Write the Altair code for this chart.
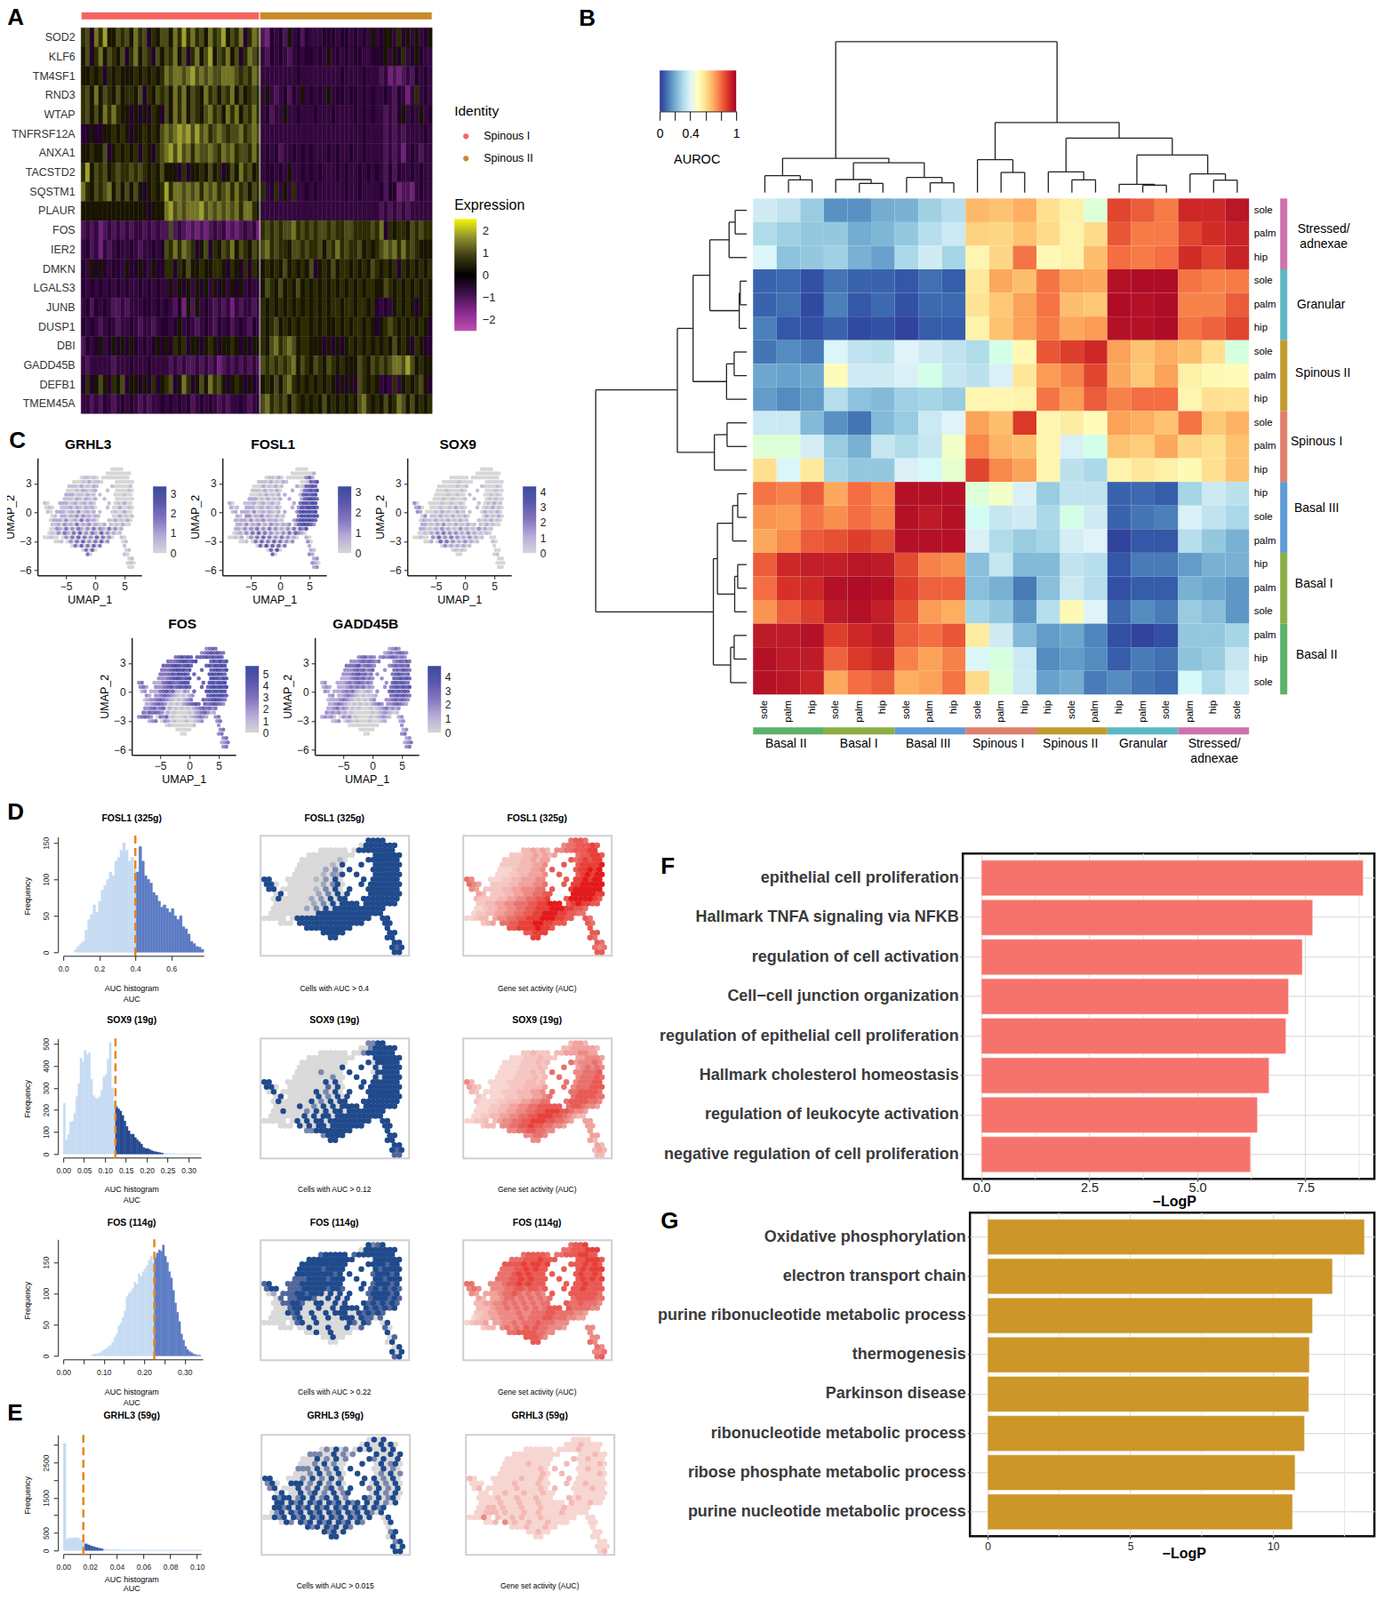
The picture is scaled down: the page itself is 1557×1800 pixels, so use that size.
import altair as alt, pandas as pd

GENES = ["SOD2","KLF6","TM4SF1","RND3","WTAP","TNFRSF12A","ANXA1","TACSTD2","SQSTM1","PLAUR","FOS","IER2","DMKN","LGALS3","JUNB","DUSP1","DBI","GADD45B","DEFB1","TMEM45A"]
HEAT_A = [
"6748695576758674657 7586968675867957684687 214342534243334443443434353 455364535345",
"5746857657468576475 7685746857957685746876 324343234344343534343443344 453546345433",
"5565646565556565656 8788789787877888767687 333333334333333333433334333 231212324343",
"6758576575665746576 7586857658675768575676 353234243534343534434434343 343243136343",
"6757586865545454654 7586857657867586857686 342335334333433343333434343 323245343534",
"4454455656545565657 8789897978678767786787 333333333333333333333334333 323232333343",
"5565574565656465467 8979786877876878677686 343423343434333434334334333 323231343233",
"6957675676676765657 5554645565756457586756 344343533434343334343343434 324243343433",
"8657678575757545656 9688787868786786867576 634635363343433333343343333 424412213433",
"5555555555555554555 8978788897878787868865 333333333333333333333333333 232323233333",
"2323123232323323232 2723212121232312123231 676767786767677676677666676 846566576766",
"3423132343343233434 7686876457465768576576 786766577676675768676675656 787868676555",
"4354543443544543544 6646575565566546546465 565657565657456575665656576 565646565656",
"4343434343433434343 3535453545354535453434 576575657565656565656565665 576565656565",
"3424343223233344343 4324152534323231323323 656565656565656566566566564 343565654565",
"4343234323343233234 4345343234324342343243 656756565665656556565665654 567656565654",
"2434534545454343454 5465645545654556545455 657867875665554545456565656 565756546544",
"3233333233343334333 3232322323231232323232 767676785765765765655576576 767887975655",
"4645754657455454645 6745864575867545654543 565757865656565654545476565 343635656754",
"3323243234343232334 3434342343432323343234 786767576565657565656578656 575687575656",
]
AUROC = [
[.37,.34,.27,.15,.15,.20,.21,.28,.32,.68,.66,.70,.60,.55,.47,.87,.83,.78,.92,.92,.96],
[.31,.28,.26,.26,.20,.22,.26,.32,.36,.63,.62,.66,.61,.54,.61,.84,.78,.78,.87,.91,.93],
[.41,.25,.26,.28,.21,.18,.30,.37,.29,.53,.62,.79,.52,.54,.67,.80,.78,.80,.91,.87,.93],
[.07,.08,.04,.10,.07,.07,.05,.09,.06,.57,.71,.67,.79,.72,.71,.97,.98,.98,.79,.77,.78],
[.07,.09,.03,.12,.05,.08,.04,.08,.08,.59,.65,.72,.79,.67,.65,.98,.97,.98,.77,.77,.83],
[.12,.05,.04,.07,.03,.04,.02,.06,.06,.54,.66,.72,.78,.71,.73,.97,.97,.98,.79,.82,.87],
[.10,.14,.11,.41,.34,.33,.40,.37,.34,.31,.45,.52,.84,.88,.92,.72,.66,.70,.67,.60,.46],
[.19,.18,.19,.51,.37,.37,.39,.45,.35,.33,.39,.58,.73,.77,.87,.71,.65,.72,.55,.52,.51],
[.17,.14,.17,.32,.25,.23,.28,.29,.27,.53,.53,.54,.79,.73,.83,.77,.80,.80,.53,.60,.59],
[.36,.36,.23,.15,.10,.23,.27,.36,.40,.72,.67,.89,.53,.56,.51,.72,.70,.66,.79,.65,.69],
[.47,.47,.38,.27,.21,.35,.31,.35,.49,.76,.69,.67,.53,.39,.45,.66,.64,.71,.62,.60,.66],
[.60,.41,.57,.29,.26,.26,.39,.42,.48,.87,.76,.72,.53,.33,.30,.54,.58,.55,.52,.60,.66],
[.79,.77,.83,.71,.80,.76,.97,.97,.97,.47,.49,.39,.27,.34,.34,.07,.08,.06,.29,.36,.33],
[.74,.73,.79,.75,.80,.77,.97,.95,.97,.43,.35,.37,.30,.45,.37,.07,.10,.12,.39,.34,.30],
[.71,.76,.83,.85,.88,.85,.97,.97,.97,.39,.31,.27,.29,.38,.40,.02,.05,.05,.32,.26,.21],
[.83,.92,.94,.94,.96,.95,.86,.77,.75,.24,.35,.23,.23,.34,.32,.05,.11,.11,.17,.21,.21],
[.80,.90,.92,.97,.98,.97,.88,.82,.82,.24,.21,.11,.24,.36,.32,.04,.06,.06,.21,.19,.16],
[.74,.83,.88,.95,.97,.94,.85,.73,.70,.29,.26,.16,.32,.52,.40,.08,.14,.11,.27,.24,.16],
[.95,.95,.97,.88,.92,.95,.83,.80,.84,.56,.37,.23,.17,.19,.13,.04,.02,.04,.26,.26,.29],
[.97,.95,.95,.82,.89,.92,.77,.72,.77,.41,.46,.36,.14,.17,.14,.06,.11,.09,.25,.27,.35],
[.97,.96,.93,.71,.80,.83,.70,.72,.79,.61,.47,.36,.18,.20,.11,.14,.10,.08,.42,.31,.38],
]
ROW_LABELS = "sole palm hip sole palm hip sole palm hip sole palm hip hip sole palm hip palm sole palm hip sole".split()
COL_LABELS = "sole palm hip sole palm hip sole palm hip sole palm hip hip sole palm hip palm sole palm hip sole".split()
GROUP_COLORS = ["#5BB26A","#8CAF45","#5F9BD5","#E07F6E","#C29B2E","#5CB8C2","#CF72AC"]
ROW_GROUP_COLORS = GROUP_COLORS[::-1]
# dendrograms: child1 pos, child1 level, child2 pos, child2 level, merge level
TOP_MERGES = [(1.5,648,2.5,648,605),(.5,648,2,605,591),(4.5,648,5.5,648,617),(3.5,648,5,617,604),(7.5,648,8.5,648,615),(6.5,648,8,615,597),
(4.25,604,7.25,597,547),(1.25,591,5.75,547,532),(10.5,648,11.5,648,580),(9.5,648,11,580,537),(13.5,648,14.5,648,605),(12.5,648,14,605,578),
(16.5,648,17.5,648,623),(15.5,648,17,623,620),(19.5,648,20.5,648,606),(18.5,648,20,606,585),(16.25,620,19.25,585,521),(13.25,578,17.75,521,464),
(10.25,537,15.5,464,411),(3.5,532,12.87,411,138)]
LEFT_MERGES = [(.5,318,1.5,318,295),(1,295,2.5,318,283),(3.5,318,4.5,318,305),(4,305,5.5,318,303),(1.75,283,4.75,303,245),(6.5,318,7.5,318,293),(7,293,8.5,318,278),
(3.25,245,7.75,278,212),(9.5,318,10.5,318,279),(10,279,11.5,318,254),(5.5,212,10.75,254,181),(12.5,318,13.5,318,300),(13,300,14.5,318,290),(15.5,318,16.5,318,300),
(16,300,17.5,318,294),(13.75,290,16.75,294,260),(18.5,318,19.5,318,293),(19,293,20.5,318,286),(15.25,260,19.75,286,252),(8.1,181,17.5,252,20)]
F_TERMS = ["epithelial cell proliferation","Hallmark TNFA signaling via NFKB","regulation of cell activation","Cell\u2212cell junction organization","regulation of epithelial cell proliferation","Hallmark cholesterol homeostasis","regulation of leukocyte activation","negative regulation of cell proliferation"]
F_VALUES = [8.84,7.67,7.43,7.11,7.05,6.66,6.39,6.23]
G_TERMS = ["Oxidative phosphorylation","electron transport chain","purine ribonucleotide metabolic process","thermogenesis","Parkinson disease","ribonucleotide metabolic process","ribose phosphate metabolic process","purine nucleotide metabolic process"]
G_VALUES = [13.2,12.08,11.38,11.27,11.25,11.1,10.77,10.68]
H_D1 = [3,8,12,15,30,45,52,65,55,70,85,92,100,110,105,125,130,140,150,140,125,130,115,110,145,125,105,100,95,82,78,70,62,65,60,55,60,50,45,50,35,32,25,15,12,8,7,4]
H_D2 = [230,65,90,145,150,185,260,320,435,420,470,450,460,340,265,255,250,260,290,350,360,430,505,300,240,215,205,195,175,150,125,105,90,90,75,65,55,45,30,25,25,20,15,12,10,8,6,4,3,3,2,2,2,1,1,1,1,1,1,1,1,1,1,1,1,1]
H_D3 = [2,3,3,4,5,8,10,12,15,17,22,30,35,48,52,62,72,95,100,103,108,118,115,132,128,135,140,145,153,160,150,158,165,170,168,178,160,150,135,125,105,85,70,55,35,25,15,10,7,5,3,2,1,1]
H_E = [3050,330,350,360,365,360,300,230,190,160,130,105,85,65,50,40,32,28,24,20,18,16,15,14,14,13,13,12,12,12,11,11,11,11,10,10,10,10,10,10,10,10,9,9,9,9,9,9,9,9,9,9]
# '#': a cell with its own digit; 'e': edge cell, repeats the digit next to it; 'o': sparse dot inside the hole; 'x': digit unused, cell left empty
MASK = [
" "*22+"####",
" "*20+"########",
" "*12+"######"+" "+"#########",
" "*9+"ee"+"#"*8+"x"+"   "+"#"*6,
" "*8+"ee"+"#"*8+"x"+"   o"+"#"*6,
" "*7+"ee"+"#"*8+"x"+"  o  "+"#"*6,
" "*7+"ee"+"#"*8+"x"+"o    "+"#"*6,
" "*6+"ee"+"#"*9+"x"+" o   "+"#"*6,
"##"+" "*3+"ee"+"#"*10+"x"+"   o "+"#"*6,
"###"+" "*2+"ee"+"#"*10+"x"+"  o "+"#"*7,
" ##"+" "+"ee"+"#"*11+"x"+"o   "+"#"*7,
"  ##"+" "+"e"+"#"*12+"x"+"   "+"#"*7,
"  ##"+"e"+"#"*13+"x"+"  o"+"#"*7,
"  e"+"#"*17+" o"+"#"*6,
"  e"+"#"*23,
" "+"#"*24,
"#"*5+" "+"#"*17+"  "+"##",
"   "+"###"+" "+"#"*14+"    "+"##",
" "*9+"#"*10+" "*7+"#",
" "*12+"#"*5+" "*9+"##",
" "*14+"##"+" "*10+"##",
" "*27+"##",
" "*27+"###",
" "*27+"##",
]
C_GRHL3 = ("0000|00000000|011010 000000000|010201102 000000|102010210 000001|010210120 000010|201102011 000100|1021021020 000000|10 20120120210 010200|010 12021021201 0020010|10 201203012021 0100200|01 2021303120213 0020101|02 20301204031202 0201020|12031204021302102 010200|03204030420304032040302|010304204050304205030201|00100 03040504030504030 10|001 03040503040503 01|0405040504 1|04050 01|40 10|01|010|00",1)
C_FOSL1 = ("0000|00000002|011020 000000352|102010210 001546|020102011 015565|102010201 045657|010201021 156567|2010201020 256765|20 12012012010 466576|201 20120210201 3657675|12 203012021020 3676767|21 3021302102010 4767676|21 20302130212010 4676765|20302130203120213 567653|20303140304030203040536|012030405040302030405320|00102 03040504030403020 20|001 04050405040303 30|0506050504 2|05060 21|50 32|23|320|23",2)
C_SOX9 = ("0000|00000000|000000 000000000|000100000 000000|000010010 000010|010000100 000100|001001000 001010|0100100010 010100|30 00100100100 010201|230 01001020100 0102010|32 010201002010 0201020|03 1020102010201 0201020|02 10201020102010 0102010|20102030102010201 020100|20102030201030201030201|001020304030302030201010|00100 30503040302030201 00|002 05040302030201 10|0302020201 0|01010 00|00 01|00|000|00",1)
C_FOS = ("3454|34565654|456565 555656565|456765675 565756|567656757 657676|456767567 567657|456576756 676765|3456765675 676576|34 24565456765 675767|342 34564565654 5676767|23 245645210323 6767676|32 3454321010234 5676765|12 34543210102345 4567654|23454301010234565 456543|34534502010101023454534|435454302010000102345312|34543 04350100010123432 34|234 03201000100123 34|0100000001 3|00000 34|00 34|34|234|34",5)
C_GADD = ("2343|23434543|345343 343454343|345454343 345454|456345434 454545|345453454 454654|345645343 456545|2345453432 556565|23 23434543432 565654|232 23434342321 4565656|32 234342101212 5656565|23 2343210101123 4565654|12 23432101010234 3454543|23432101010102343 345432|23423201010001012342323|323231201000000101232101|23231 03230100001012321 23|123 02101000100012 23|0000000000 3|00000 23|00 34|23|234|34",3)
CELL_FOSL1 = ("9999|09999999|000000 099999999|000000009 999999|000000209 999999|000002090 999999|000030509 999999|0000204390 999999|99 00002040909 999999|990 00000305909 9999999|99 000002050909 9999999|09 0000030509099 9999999|09 00000304090999 9999999|00000003050909999 999999|00000030509099999999999|000000000099999999999999|00000 09999999999999999 99|000 99999999999999 99|9999999999 9|99999 99|99 99|99|979|99",9)
CELL_SOX9 = ("5599|00599999|000000 005999999|000000000 999999|000000000 099999|000000090 909999|000500009 099999|0000005009 909999|99 00000090909 999999|990 00000070909 9999999|09 000009050909 9999999|09 0000090509099 9999999|09 00000905090999 9999999|00009005090909999 999999|09000050909099099999999|000000090909909999999999|00000 09090990999999999 99|000 90909909999999 99|5599999999 9|59999 99|99 99|99|979|77",9)
CELL_FOS = ("9579|09999999|799999 799999999|999999999 999999|999999999 999799|999799999 979999|999999799 799979|7999979999 997999|79 79999999999 799979|799 79999979979 7979797|03 799799909090 7999979|07 7999700909090 7999797|00 79970099009099 7979797|00799000900909999 797979|00979009009099900979797|000007900900900999097707|00000 07900900000097097 09|000 00900090009007 70|0090090000 9|00900 07|00 09|09|909|79",9)
CELL_GRHL3 = ("0909|09009090|050905 090900909|500905050 900909|090509050 509009|050905009 090590|509050905 009050|0509050905 050905|99 05090509050 905090|590 90509050905 0905090|59 090509059050 5090509|09 0905905090590 0905090|95 90590905909059 5090590|90959095909590959 090509|95909590959095909590959|059095909590959095909509|00959 95909590959095909 09|095 95909590959095 09|9590959095 0|95909 59|99 09|59|909|99",9)
ACT_FOSL1 = ("6776|56677787|334343 556677788|233434344 677887|223343445 678788|223334454 788889|123334455 788989|1223344455 789899|65 12233444555 889899|654 22334445566 8899999|54 223344555667 8999999|43 2233445566778 9999988|32 22334455667788 9999987|23344556667788999 898877|12334455667788899988776|122334455667788999887766|11233 45566778889998877 76|234 66778889988777 76|7788889887 7|77888 77|88 76|76|656|77",7)
ACT_SOX9 = ("3443|33444443|223222 334445544|122232223 445554|112223232 455565|112222323 456565|112223234 556667|1122223233 566676|53 11222233233 566677|432 11222333343 5666777|32 112223334455 6677776|21 1122233344566 6777766|21 11223334455667 7777665|11223344556677777 776554|11223344556677888776554|112233445566778887765433|11223 34556677888776654 44|233 55667787766554 44|5566776655 4|55665 44|55 43|43|343|33",6)
ACT_FOS = ("6778|66777888|677776 667778877|677787778 778887|778788787 778787|677878778 787888|678787777 787787|6778787777 787878|66 56778787777 778777|565 56677677676 7787777|54 456676565655 7777776|43 4566565656565 6777766|33 45565656565667 6676665|33455656565656777 666655|23445555655666776666554|123344555565666776665544|12334 44556566676665 55|233 56565767665554 55|6677776655 5|77765 55|77 65|65|556|67",7)
ACT_GRHL3 = ("1111|11131111|111111 111131111|111111111 111311|111111111 113111|111311111 111131|111111311 113111|1111111311 111131|31 11113111311 111111|111 11311113111 1131111|13 111131111311 1111311|11 1311131113111 1111111|11 13111311131111 1311111|11131113111311111 111311|13313111311131111311111|113331311131131111311111|11151 31131311131111111 11|113 51311311131111 11|1113111311 1|11311 11|11 11|11|111|13",3)

FONT = "Liberation Sans"
BLANK = pd.DataFrame({'a':[0]})
def spacer(w,h):
    return alt.Chart(BLANK).mark_point(size=0,opacity=0).encode(x=alt.value(0)).properties(width=max(1,w),height=max(1,h))
def conc(fn,*c):
    return fn(*c,spacing=0,bounds='flush').resolve_scale(color='independent')
def place(ch,x,y):
    return conc(alt.vconcat,spacer(1,round(y-8)),conc(alt.hconcat,spacer(round(x-8),1),ch))
items=[]
def put(ch,x,y): items.append(place(ch,x,y))
def text(s,x,y,size=12,weight='normal',align='center',angle=0,color='#000'):
    ch=alt.Chart(pd.DataFrame({'t':[s]})).mark_text(fontSize=size,fontWeight=weight,align=align,baseline='middle',angle=angle,color=color).encode(text='t:N',x=alt.value(0),y=alt.value(0)).properties(width=1,height=1)
    put(ch,x,y)
def grad(stops,vertical=True):
    n=len(stops)-1
    s=[dict(offset=i/n,color=c) for i,c in enumerate(stops)]
    return dict(gradient='linear',stops=s,x1=0,x2=0,y1=1,y2=0) if vertical else dict(gradient='linear',stops=s,x1=0,x2=1,y1=0,y2=0)
def colorbar(stops,lo,hi,ticks,w,h,x,y,size=12,pad=6):
    ch=alt.Chart(pd.DataFrame({'lo':[lo],'hi':[hi]})).mark_rect(color=grad(stops)).encode(
        y=alt.Y('lo:Q',scale=alt.Scale(domain=[lo,hi],nice=False),axis=alt.Axis(orient='right',title=None,values=ticks,format='d',domain=False,ticks=False,grid=False,labelFontSize=size,labelPadding=pad,labelColor='#222')),
        y2='hi:Q').properties(width=w,height=h)
    put(ch,x,y)

# ---- letters
for s,x,y in [("A",9,19),("B",652,20),("C",11,495),("D",9,913),("E",9,1589),("F",744,974),("G",744,1373)]:
    text(s,x,y,size=26,weight='bold',align='left')

# ---- A
rows=[]
for g,r in enumerate(HEAT_A):
    for c,ch in enumerate(r.replace(' ','')):
        rows.append(dict(g=g,c=c,v=(int(ch)-4.5)*0.4))
heatA=pd.DataFrame(rows)
A_STOPS=['#BE4FB0','#8A2A90','#3E1148','#000000','#3B3B14','#8F8F30','#F5F50E']
A_DOM=[-2.5+i*5/6 for i in range(7)]
A_SCALE=alt.Scale(domain=A_DOM,range=A_STOPS)
ha=alt.Chart(heatA).mark_rect(strokeWidth=0.4).encode(
    x=alt.X('c:O',axis=None,scale=alt.Scale(paddingInner=0,paddingOuter=0)),
    y=alt.Y('g:O',title=None,scale=alt.Scale(paddingInner=0,paddingOuter=0),axis=alt.Axis(labelExpr=str(GENES)+'[datum.value]',domain=False,ticks=False,labelFontSize=12.5,labelColor='#333',labelPadding=7,labelAngle=0)),
    color=alt.Color('v:Q',legend=None,scale=A_SCALE),stroke=alt.Stroke('v:Q',legend=None,scale=A_SCALE)).properties(width=395,height=434)
sp=alt.Chart(pd.DataFrame({'c':[40.7]})).mark_rule(color='#ddd',strokeWidth=1).encode(x=alt.X('c:Q',scale=alt.Scale(domain=[0,80]),axis=None))
put(alt.layer(ha,sp).resolve_scale(x='independent'),92,30)
ab=alt.Chart(pd.DataFrame({'a':[0,40.7],'b':[40.7,80],'c':['#F4645F','#C88A2A']})).mark_rect(stroke='white',strokeWidth=1).encode(
    x=alt.X('a:Q',scale=alt.Scale(domain=[0,80]),axis=None),x2='b:Q',color=alt.Color('c:N',scale=None)).properties(width=395,height=9)
put(ab,92,12)
text("Identity",512,124,size=15.5,align='left')
text("Spinous I",545,152,size=12.5,align='left')
text("Spinous II",545,177,size=12.5,align='left')
for c,y in [('#F4645F',152),('#C88A2A',177)]:
    put(alt.Chart(BLANK).mark_circle(size=38,color=c,opacity=1).encode(x=alt.value(0),y=alt.value(0)).properties(width=1,height=1),525,y)
text("Expression",512,230,size=16,align='left')
colorbar(A_STOPS,-2.52,2.52,[-2,-1,0,1,2],25,126,512,245,size=13)

# ---- B
rows=[dict(r=i,c=j,v=v) for i,row in enumerate(AUROC) for j,v in enumerate(row)]
RB=['#313695','#4575b4','#74add1','#abd9e9','#e0f3f8','#ffffbf','#fee090','#fdae61','#f46d43','#d73027','#a50026']
hb=alt.Chart(pd.DataFrame(rows)).mark_rect().encode(
    x=alt.X('c:O',title=None,scale=alt.Scale(paddingInner=0,paddingOuter=0),axis=alt.Axis(labelExpr=str(COL_LABELS)+'[datum.value]',labelAngle=270,domain=False,ticks=False,labelFontSize=11.5,labelPadding=6,labelBaseline='middle',labelAlign='right')),
    y=alt.Y('r:O',title=None,scale=alt.Scale(paddingInner=0,paddingOuter=0),axis=alt.Axis(orient='right',labelExpr=str(ROW_LABELS)+'[datum.value]',labelAngle=0,domain=False,ticks=False,labelFontSize=11.5,labelPadding=5)),
    color=alt.Color('v:Q',legend=None,scale=alt.Scale(domain=[i/10 for i in range(11)],range=RB))).properties(width=558,height=558)
put(hb,848,222)
def dendro(merges):
    r=[]
    for p1,l1,p2,l2,l in merges:
        r+= [dict(p=p1,p2=p1,l=l1,l2=l),dict(p=p2,p2=p2,l=l2,l2=l),dict(p=p1,p2=p2,l=l,l2=l)]
    return pd.DataFrame(r)
top=alt.Chart(dendro(TOP_MERGES)).mark_rule(color='#222',strokeWidth=1.3).encode(
    x=alt.X('p:Q',scale=alt.Scale(domain=[0,21],nice=False),axis=None),x2='p2:Q',
    y=alt.Y('l:Q',scale=alt.Scale(domain=[130,650],nice=False,reverse=True,zero=False),axis=None),y2='l2:Q').properties(width=558,height=173)
put(top,848,43)
left=alt.Chart(dendro(LEFT_MERGES)).mark_rule(color='#222',strokeWidth=1.3).encode(
    y=alt.Y('p:Q',scale=alt.Scale(domain=[0,21],nice=False,reverse=True),axis=None),y2='p2:Q',
    x=alt.X('l:Q',scale=alt.Scale(domain=[20,318],nice=False,zero=False),axis=None),x2='l2:Q').properties(width=170,height=558)
put(left,671,222)
bs=pd.DataFrame({'a':[0,3,6,9,12,15,18],'b':[3,6,9,12,15,18,21],'c':GROUP_COLORS})
rs=pd.DataFrame({'a':[0,3,6,9,12,15,18],'b':[3,6,9,12,15,18,21],'c':ROW_GROUP_COLORS})
put(alt.Chart(bs).mark_rect().encode(x=alt.X('a:Q',scale=alt.Scale(domain=[0,21],nice=False),axis=None),x2='b:Q',color=alt.Color('c:N',scale=None)).properties(width=558,height=8),848,817)
put(alt.Chart(rs).mark_rect().encode(y=alt.Y('a:Q',scale=alt.Scale(domain=[21,0],nice=False),axis=None),y2='b:Q',color=alt.Color('c:N',scale=None)).properties(width=8,height=558),1441,222)
for s,x in zip(["Basal II","Basal I","Basal III","Spinous I","Spinous II","Granular","Stressed/"],[885,967,1045,1124,1205,1287,1367]):
    text(s,x,836,size=14)
text("adnexae",1367,853,size=14)
for s,x,y in [("Stressed/",1490,257),("adnexae",1490,274),("Granular",1487,342),("Spinous II",1489,419),("Spinous I",1482,496),("Basal III",1482,571),("Basal I",1479,656),("Basal II",1482,736)]:
    text(s,x,y,size=14)
acb=alt.Chart(pd.DataFrame({'lo':[0],'hi':[1]})).mark_rect(color=grad(RB,False)).encode(
    x=alt.X('lo:Q',scale=alt.Scale(domain=[0,1],nice=False),axis=alt.Axis(title=None,values=[0,.2,.4,.6,.8,1],labelExpr="datum.value==0?'0':datum.value==0.4?'0.4':datum.value==1?'1':''",tickSize=10,tickColor='#000',domainColor='#000',labelFontSize=14,labelPadding=8,grid=False,labelOverlap=False,labelFlush=False)),
    x2='hi:Q').properties(width=86,height=46)
put(acb,743,78)
text("AUROC",785,179,size=14.5)

# ---- UMAP grids
def grid(panel):
    vals,hole=panel
    rows=vals.split('|')
    out=[]
    for i,m in enumerate(MASK):
        ds=rows[i].replace(' ','')
        k=0
        for j,c in enumerate(m):
            px=-8.63+0.524*j+0.262*(i%2)
            py=4.5-0.443*i
            if c=='#':
                if k<len(ds):
                    out.append(dict(x=px,y=py,v=int(ds[k])))
                k+=1
            elif c=='x':
                k+=1
            elif c=='e':
                out.append(dict(x=px,y=py,v=int(ds[min(k,len(ds)-1)])))
            elif c=='o':
                out.append(dict(x=px,y=py,v=hole))
    return pd.DataFrame(out).sort_values('v')
PURP=['#D6D6D6','#B7ACD8','#8576BE','#5A58AC','#3A4BA0']
def umapC(panel,title,x,y,bar):
    base=alt.Chart(grid(panel)).mark_circle(size=21,opacity=1).encode(
        x=alt.X('x:Q',scale=alt.Scale(domain=[-9.85,7.9],nice=False),axis=alt.Axis(title='UMAP_1',values=[-5,0,5],format='d',grid=False,domainColor='#222',domainWidth=1.5,tickColor='#222',tickSize=4,labelFontSize=12,labelColor='#222',titleFontSize=12.5,titleFontWeight='normal',labelPadding=3,titlePadding=3)),
        y=alt.Y('y:Q',scale=alt.Scale(domain=[-6.55,5.65],nice=False),axis=alt.Axis(title='UMAP_2',values=[-6,-3,0,3],format='d',grid=False,domainColor='#222',domainWidth=1.5,tickColor='#222',tickSize=4,labelFontSize=12,labelColor='#222',titleFontSize=12.5,titleFontWeight='normal',labelPadding=3,titlePadding=3)),
        color=alt.Color('v:Q',legend=None,scale=alt.Scale(domain=[0,2,4,6,8],range=PURP,clamp=True))).properties(width=117,height=132)
    put(base,x,y)
    text(title,x+57,y-15,size=15.5,weight='bold')
    colorbar(PURP,0,bar[0],bar[1],15,75,x+bar[2],y+bar[3],size=12,pad=4)
umapC(C_GRHL3,"GRHL3",43,514,(3.36,[0,1,2,3],130,32))
umapC(C_FOSL1,"FOSL1",251,514,(3.26,[0,1,2,3],130,32))
umapC(C_SOX9,"SOX9",459,514,(4.35,[0,1,2,3,4],130,32))
umapC(C_FOS,"FOS",149,716,(5.7,[0,1,2,3,4,5],128,32))
umapC(C_GADD,"GADD45B",355,716,(4.77,[0,1,2,3,4],127,32))

CELLC=['#D9D9D9','#1F4A8C']
ACTC=['#F8E3E0','#F3B9B5','#E8716D','#E31A1C']
def umapD(panel,x,y,rng,w=167,h=135):
    ch=alt.Chart(grid(panel),view=alt.ViewBackground(stroke='#CFCFCF',strokeWidth=2)).mark_circle(size=42,opacity=1).encode(
        x=alt.X('x:Q',scale=alt.Scale(domain=[-9.03,7.39],nice=False),axis=None),
        y=alt.Y('y:Q',scale=alt.Scale(domain=[-6.02,4.92],nice=False),axis=None),
        color=alt.Color('v:Q',legend=None,scale=alt.Scale(domain=[i*3 for i in range(len(rng))] if len(rng)>2 else [0,9],range=rng))).properties(width=w,height=h)
    put(ch,x,y)

def hist(vals,x0,step,thr,upper,dark,xmax,ymax,yh,ticks,xlab,yticks,ylab,x,y0,dash_top,dash_bot):
    d=pd.DataFrame({'x':[x0+i*step for i in range(len(vals))],'v':vals})
    d['x2']=d.x+step
    d['c']=['#C6DBF3' if (a<thr-1e-9 or a>=upper) else dark for a in d.x]
    xax=alt.Axis(title=None,values=ticks,labelExpr=xlab,grid=False,offset=4,tickSize=5,domainColor='#222',tickColor='#222',labelFontSize=8.5,labelColor='#222',labelPadding=5,labelOverlap=False,labelBound=False,labelFlush=False)
    yax=alt.Axis(title=None,values=yticks,labelExpr=ylab,grid=False,offset=6,tickSize=5,domainColor='#222',tickColor='#222',labelFontSize=8.5,labelColor='#222',labelAngle=270,labelAlign='center',labelBaseline='bottom',labelPadding=4,labelOverlap=False,labelBound=False,labelFlush=False)
    xs=alt.Scale(domain=[0,xmax[0]],nice=False,zero=False)
    ys=alt.Scale(domain=[0,ymax],nice=False)
    b=alt.Chart(d).mark_rect(strokeWidth=0.4).encode(
        x=alt.X('x:Q',scale=xs,axis=xax),x2='x2:Q',
        y=alt.Y('v:Q',scale=ys,axis=yax),y2=alt.Y2(datum=0),
        color=alt.Color('c:N',scale=None),stroke=alt.Stroke('c:N',scale=None))
    t=alt.Chart(pd.DataFrame({'x':[thr],'a':[dash_top],'b':[dash_bot]})).mark_rule(color='#E8851C',strokeWidth=2.5,strokeDash=[9,5]).encode(x=alt.X('x:Q',scale=xs,axis=xax),y=alt.Y('a:Q',scale=ys,axis=yax),y2='b:Q')
    put(alt.layer(b,t).properties(width=xmax[1],height=yh),x,y0-yh)

hist(H_D1,0.06,0.015,0.4,9,'#5C7BC4',(0.78,158),158.5,130,[0,.2,.4,.6],"format(datum.value,'.1f')",[0,50,100,150],"datum.value",72,1070,160,-6)
hist(H_D2,0.0,0.005,0.125,0.24,'#23488F',(0.33,155),524,130,[0,.05,.1,.15,.2,.25,.3],"format(datum.value,'.2f')",[0,100,200,300,400,500],"datum.value",72,1297,524,-20)
hist(H_D3,0.07,0.005,0.225,9,'#5C7BC4',(0.345,157),187,131,[0,.05,.1,.15,.2,.25,.3],"indexof([0,0.1,0.2,0.3],datum.value)>=0?format(datum.value,'.2f'):''",[0,50,100,150],"datum.value",72,1524,187,-7)
hist(H_E,0.0,0.002,0.015,0.03,'#3A5BAF',(0.103,155),3291,130,[0,.02,.04,.06,.08,.1],"format(datum.value,'.2f')",[0,500,1000,1500,2000,2500,3000],"indexof([0,500,1500,2500],datum.value)>=0?datum.value:''",72,1743,3291,-125)

for title,yt,ycell,sub,ysub,yh1,yh2,cp,ap,xc,xa,xct,xat in [
 ("FOSL1 (325g)",920,939,"Cells with AUC > 0.4",1111,1111,1123,CELL_FOSL1,ACT_FOSL1,294,522,377,605),
 ("SOX9 (19g)",1147,1167,"Cells with AUC > 0.12",1337,1337,1349,CELL_SOX9,ACT_SOX9,294,522,377,605),
 ("FOS (114g)",1375,1394,"Cells with AUC > 0.22",1565,1565,1577,CELL_FOS,ACT_FOS,294,522,377,605),
 ("GRHL3 (59g)",1592,1613,"Cells with AUC > 0.015",1783,1776,1786,CELL_GRHL3,ACT_GRHL3,295,525,378,608)]:
    text(title,149,yt,size=10.5,weight='bold'); text(title,xct,yt,size=10.5,weight='bold'); text(title,xat,yt,size=10.5,weight='bold')
    umapD(cp,xc,ycell,CELLC); umapD(ap,xa,ycell,ACTC)
    text(sub,xct,ysub,size=8.5); text("Gene set activity (AUC)",xat,ysub,size=8.5)
    text("AUC histogram",149,yh1,size=9); text("AUC",149,yh2,size=9)
    text("Frequency",32,ycell+68,size=9,angle=270)

# ---- F, G
def barp(terms,vals,color,dom,major,minor,w,h,x,y,size,fmt,lsize,lpad):
    d=pd.DataFrame({'t':terms,'v':vals})
    m=alt.Chart(pd.DataFrame({'m':minor})).mark_rule(color='#E6E6E6',strokeWidth=1).encode(x=alt.X('m:Q'))
    b=alt.Chart(d).mark_bar(color=color,stroke='#FBE9D8',strokeWidth=0.5).encode(
        x=alt.X('v:Q',scale=alt.Scale(domain=dom,nice=False,zero=False),axis=alt.Axis(title=None,values=major,format=fmt,grid=True,gridColor='#D4D4D4',tickColor='#333',tickSize=3,labelFontSize=lsize,labelColor='#222',domain=False,labelPadding=lpad)),
        y=alt.Y('t:N',sort=None,scale=alt.Scale(paddingInner=.1,paddingOuter=.17),axis=alt.Axis(title=None,grid=True,gridColor='#D4D4D4',bandPosition=.5,labelFontSize=size,labelFontWeight='bold',labelColor='#3A3A3A',tickColor='#333',tickSize=3,labelPadding=2,domain=False,labelLimit=500)))
    ch=alt.layer(m,b,view=alt.ViewBackground(stroke='#111',strokeWidth=2.5)).properties(width=w,height=h)
    put(ch,x,y)
barp(F_TERMS,F_VALUES,'#F6736D',[-0.43,9.1],[0,2.5,5,7.5],[1.25,3.75,6.25,8.75],463,366,1084,959,18,'.1f',14.5,0)
text("\u2212LogP",1322,1351,size=16,weight='bold')
barp(G_TERMS,G_VALUES,'#CC9628',[-0.62,13.55],[0,5,10],[2.5,7.5,12.5],455,364,1092,1363,18,'d',12,3)
text("\u2212LogP",1333,1747,size=16,weight='bold')

bg=spacer(1530,1770)
chart=alt.hconcat(place(bg,9,9),*items,spacing=0,bounds='flush').resolve_scale(color='independent').properties(padding=dict(left=-2.8,top=-0.7,right=0,bottom=0),background='white').configure(font=FONT).configure_view(stroke=None).configure_axis(grid=False)
chart.save("out.html", embed_options={"renderer": "svg", "actions": False})
